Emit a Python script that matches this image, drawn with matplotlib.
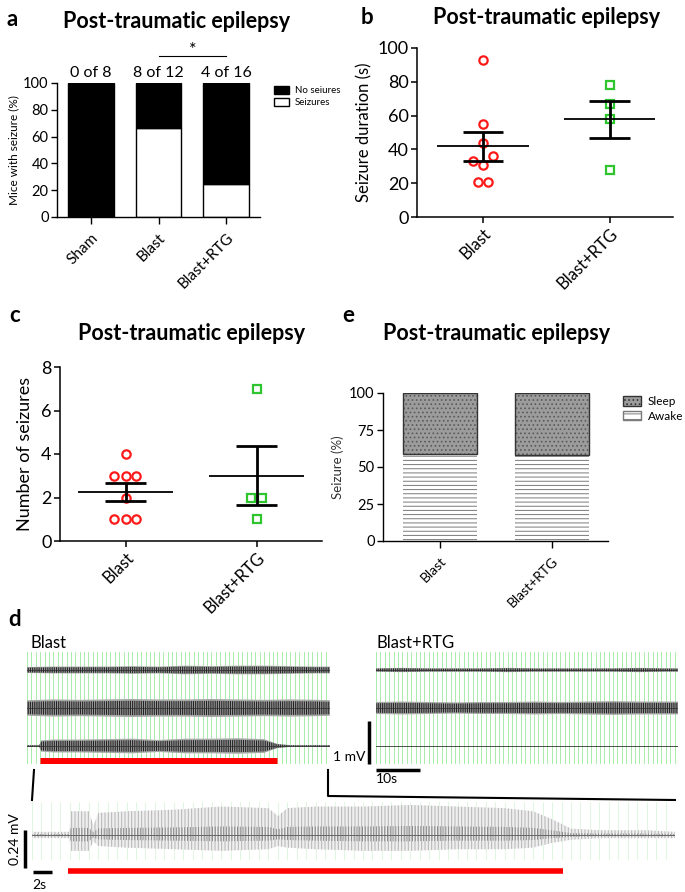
import numpy as np
import matplotlib
matplotlib.use('Agg')
import matplotlib.pyplot as plt
from matplotlib.patches import Patch

plt.rcParams['font.family'] = ['Lato', 'DejaVu Sans']
plt.rcParams['hatch.linewidth'] = 0.7

# ---------------- data ----------------
# a: mice with seizure
groups_a = ['Sham', 'Blast', 'Blast+RTG']
seizure_pct = [0, 66.7, 25]
no_seizure_pct = [100, 33.3, 75]
counts_a = ['0 of 8', '8 of 12', '4 of 16']

# b, c: per-mouse values
groups_bc = ['Blast', 'Blast+RTG']
blast_duration = [93, 55, 44, 36, 33, 31, 21, 21]
blast_duration_jitter = [0, 0, 0, 0.08, -0.08, 0, -0.04, 0.04]
rtg_duration = [78, 67, 58, 28]
rtg_duration_jitter = [0, 0, 0, 0]

blast_count = [4, 3, 3, 3, 2, 1, 1, 1]
blast_count_jitter = [0, -0.085, 0, 0.08, 0, -0.085, 0, 0.08]
rtg_count = [7, 2, 2, 1]
rtg_count_jitter = [0, -0.045, 0.045, 0]

# e: sleep / awake
awake_pct = [59, 58]
sleep_pct = [41, 42]

# d: EEG envelopes (half amplitude in mV), time in s
eeg_t = [0, 6, 12, 18, 24, 30, 36, 42, 48, 54, 60, 66, 69]
blast_ch1 = [0.07, 0.08, 0.08, 0.08, 0.09, 0.08, 0.10, 0.09, 0.10, 0.10, 0.09, 0.08, 0.08]
blast_ch2 = [0.18, 0.20, 0.19, 0.20, 0.21, 0.20, 0.20, 0.21, 0.20, 0.19, 0.20, 0.19, 0.18]
blast_ch3_t = [0, 2.8, 3.2, 6, 12, 18, 24, 30, 36, 42, 48, 54, 57, 60, 69]
blast_ch3 = [0.02, 0.02, 0.13, 0.15, 0.15, 0.16, 0.17, 0.14, 0.17, 0.17, 0.18, 0.16, 0.05, 0.02, 0.02]
rtg_ch1 = [0.04, 0.05, 0.04, 0.04, 0.04, 0.05, 0.04, 0.04, 0.04, 0.04, 0.05, 0.04, 0.04]
rtg_ch2 = [0.14, 0.15, 0.14, 0.13, 0.14, 0.14, 0.15, 0.14, 0.15, 0.16, 0.15, 0.15, 0.15]
rtg_ch3 = [0.01, 0.01, 0.01, 0.01, 0.01, 0.01, 0.01, 0.01, 0.01, 0.01, 0.01, 0.01, 0.01]
seizure_on, seizure_off = 3, 57

# expanded seizure trace (upper / lower excursion from baseline, mV)
exp_t = [0, 3.9, 4.1, 6, 6.5, 7, 10, 15, 20, 25, 26, 27, 30, 35, 40, 45, 50, 53, 55, 57, 60, 65, 68]
exp_up = [0.02, 0.02, 0.15, 0.15, 0.06, 0.14, 0.15, 0.16, 0.18, 0.17, 0.12, 0.17, 0.18, 0.18,
          0.19, 0.18, 0.17, 0.15, 0.10, 0.04, 0.03, 0.03, 0.02]
exp_lo = [0.02, 0.02, 0.10, 0.10, 0.04, 0.07, 0.08, 0.09, 0.10, 0.09, 0.07, 0.08, 0.09, 0.10,
          0.10, 0.09, 0.09, 0.08, 0.05, 0.03, 0.02, 0.02, 0.02]
exp_on, exp_off = 3.8, 56.2

# ---------------- layout helpers ----------------
W, H = 685, 892
fig = plt.figure(figsize=(W / 100, H / 100), dpi=100)


def box(l, t, r, b):
    return [l / W, 1 - b / H, (r - l) / W, (b - t) / H]


def ftext(x, y, s, **kw):
    kw.setdefault('ha', 'center')
    kw.setdefault('va', 'center')
    fig.text(x / W, 1 - y / H, s, **kw)


def style(ax, lw=1.0):
    for s in ['top', 'right']:
        ax.spines[s].set_visible(False)
    for s in ['left', 'bottom']:
        ax.spines[s].set_linewidth(lw)
    ax.tick_params(direction='out', length=4, width=lw, pad=2)


def mean_sem(ax, xc, vals):
    m = np.mean(vals)
    s = np.std(vals, ddof=1) / np.sqrt(len(vals))
    ax.hlines(m, xc - 0.36, xc + 0.36, color='k', lw=1.3, zorder=4)
    ax.vlines(xc, m - s, m + s, color='k', lw=2, zorder=4)
    ax.hlines([m - s, m + s], xc - 0.16, xc + 0.16, color='k', lw=2, zorder=4)


RED = '#ff1a1a'
GREEN = '#2ec52e'
TITLE = 'Post-traumatic epilepsy'

# ---------------- panel a ----------------
ax = fig.add_axes(box(57, 83, 260, 217))
x = np.arange(len(groups_a))
ax.bar(x, seizure_pct, width=0.67, color='white', edgecolor='black', lw=1)
ax.bar(x, no_seizure_pct, bottom=seizure_pct, width=0.67, color='black', edgecolor='black', lw=1)
ax.set_xlim(-0.5, 2.5)
ax.set_ylim(0, 100)
ax.set_yticks(range(0, 101, 20))
ax.tick_params(axis='y', labelsize=10.5)
ax.set_xticks(x)
ax.set_xticklabels(groups_a, rotation=45, ha='right', rotation_mode='anchor', fontsize=11)
ax.set_ylabel('Mice with seizure (%)', fontsize=8.5, labelpad=3)
style(ax)
ax.tick_params(axis='x', length=5, pad=5)
for xi, c in zip(x, counts_a):
    ax.text(xi, 102, c, ha='center', va='bottom', fontsize=11.5)
ax.plot([1, 2], [120, 120], color='k', lw=0.8, clip_on=False)
ax.text(1.5, 119, '*', ha='center', va='bottom', fontsize=13)
ax.legend(handles=[Patch(fc='black', ec='black', label='No seiures'),
                   Patch(fc='white', ec='black', label='Seizures')],
          loc='upper left', bbox_to_anchor=(1.07, 0.98), frameon=False, fontsize=7,
          handlelength=1.5, handleheight=0.9, labelspacing=0.3, handletextpad=0.6,
          borderaxespad=0, borderpad=0)
ftext(177, 22, TITLE, fontsize=15.5, fontweight='bold')
ftext(12, 19, 'a', fontsize=16, fontweight='bold')

# ---------------- panel b ----------------
ax = fig.add_axes(box(417, 48, 673, 217))
ax.plot(0 + np.array(blast_duration_jitter), blast_duration, 'o', mfc='none', mec=RED, mew=1.6, ms=6)
ax.plot(1 + np.array(rtg_duration_jitter), rtg_duration, 's', mfc='none', mec=GREEN, mew=1.6, ms=5.5)
mean_sem(ax, 0, blast_duration)
mean_sem(ax, 1, rtg_duration)
ax.set_xlim(-0.52, 1.5)
ax.set_ylim(0, 100)
ax.set_yticks(range(0, 101, 20))
ax.tick_params(axis='y', labelsize=13)
ax.set_xticks([0, 1])
ax.set_xticklabels(groups_bc, rotation=45, ha='right', rotation_mode='anchor', fontsize=12)
ax.set_ylabel('Seizure duration (s)', fontsize=12, labelpad=4)
style(ax, 1.1)
ftext(547, 18, TITLE, fontsize=15.5, fontweight='bold')
ftext(367, 18, 'b', fontsize=16, fontweight='bold')

# ---------------- panel c ----------------
ax = fig.add_axes(box(60, 367, 322, 541))
ax.plot(0 + np.array(blast_count_jitter), blast_count, 'o', mfc='none', mec=RED, mew=1.6, ms=6)
ax.plot(1 + np.array(rtg_count_jitter), rtg_count, 's', mfc='none', mec=GREEN, mew=1.6, ms=5.5)
mean_sem(ax, 0, blast_count)
mean_sem(ax, 1, rtg_count)
ax.set_xlim(-0.5, 1.5)
ax.set_ylim(0, 8)
ax.set_yticks(range(0, 9, 2))
ax.tick_params(axis='y', labelsize=13)
ax.set_xticks([0, 1])
ax.set_xticklabels(groups_bc, rotation=45, ha='right', rotation_mode='anchor', fontsize=12)
ax.set_ylabel('Number of seizures', fontsize=13, labelpad=6)
style(ax, 1.1)
ftext(192, 333, TITLE, fontsize=15.5, fontweight='bold')
ftext(15, 316, 'c', fontsize=16, fontweight='bold')

# ---------------- panel e ----------------
ax = fig.add_axes(box(383, 393, 608, 541))
xe = np.arange(len(groups_bc))
ax.bar(xe, awake_pct, width=0.66, color='white', edgecolor='#7a7a7a', hatch='----', lw=0)
ax.bar(xe, sleep_pct, bottom=awake_pct, width=0.66, color='#9c9c9c', edgecolor='#5a5a5a',
       hatch='....', lw=0)
ax.bar(xe, sleep_pct, bottom=awake_pct, width=0.66, fill=False, edgecolor='#333333', lw=1)
ax.set_xlim(-0.51, 1.5)
ax.set_ylim(0, 100)
ax.set_yticks([0, 25, 50, 75, 100])
ax.tick_params(axis='y', labelsize=10.5)
ax.set_xticks(xe)
ax.set_xticklabels(groups_bc, rotation=45, ha='right', rotation_mode='anchor', fontsize=10)
ax.set_ylabel('Seizure (%)', fontsize=9.5, labelpad=4, color='#333333')
style(ax)
ax.tick_params(axis='x', length=5, pad=5)
ax.legend(handles=[Patch(fc='#9c9c9c', ec='#333333', hatch='....', label='Sleep'),
                   Patch(fc='white', ec='#7a7a7a', hatch='---', label='Awake')],
          loc='upper left', bbox_to_anchor=(1.067, 0.98), frameon=False, fontsize=8.5,
          handlelength=1.5, handleheight=0.9, labelspacing=0.3, handletextpad=0.6,
          borderaxespad=0, borderpad=0)
ftext(497, 333, TITLE, fontsize=15.5, fontweight='bold')
ftext(348, 316, 'e', fontsize=16, fontweight='bold')

# ---------------- panel d ----------------
PX_PER_MV = 43.0


def green_grid(ax, tmax, color='#9be89b'):
    for v in np.arange(0, tmax + 0.01, 1.0):
        ax.axvline(v, color=color, lw=0.6, zorder=0)


def draw_trace(ax, t, amp, y0):
    t = np.asarray(t, dtype=float)
    a = np.asarray(amp, dtype=float)
    ax.fill_between(t, y0 - a, y0 + a, facecolor='#a8a8a8', lw=0, zorder=2)
    ax.fill_between(t, y0 - 0.8 * a, y0 + 0.8 * a, facecolor='none', edgecolor='#1e1e1e',
                    hatch='|||||||||', lw=0, zorder=3)
    ax.plot(t, np.full_like(t, y0), color='#333333', lw=0.6, zorder=4)


rows_y = [94 / PX_PER_MV, 56 / PX_PER_MV, 18 / PX_PER_MV]

axl = fig.add_axes(box(27, 652, 330, 764))
axl.set_xlim(0, 69)
axl.set_ylim(0, 112 / PX_PER_MV)
axl.axis('off')
green_grid(axl, 69)
draw_trace(axl, eeg_t, blast_ch1, rows_y[0])
draw_trace(axl, eeg_t, blast_ch2, rows_y[1])
draw_trace(axl, blast_ch3_t, blast_ch3, rows_y[2])
axl.plot([seizure_on, seizure_off], [0.07, 0.07], color='red', lw=5, solid_capstyle='butt', zorder=5)

axr = fig.add_axes(box(376, 652, 678, 764))
axr.set_xlim(0, 302 / 4.39)
axr.set_ylim(0, 112 / PX_PER_MV)
axr.axis('off')
green_grid(axr, 302 / 4.39)
draw_trace(axr, eeg_t, rtg_ch1, rows_y[0])
draw_trace(axr, eeg_t, rtg_ch2, rows_y[1])
draw_trace(axr, eeg_t, rtg_ch3, rows_y[2])
# scale bars
axr.plot([-1.6, -1.6], [0, 1.0], color='k', lw=2.5, clip_on=False, solid_capstyle='butt')
axr.plot([0, 10], [-0.14, -0.14], color='k', lw=2.5, clip_on=False, solid_capstyle='butt')
axr.text(-2.4, 0.17, '1 mV', ha='right', va='center', fontsize=10)
axr.text(0, -0.36, '10s', ha='left', va='center', fontsize=10)

ftext(15, 620, 'd', fontsize=16, fontweight='bold')
ftext(30, 643, 'Blast', fontsize=12, ha='left')
ftext(377, 643, 'Blast+RTG', fontsize=12, ha='left')

# expanded seizure
PX_PER_MV_EXP = 158.0
axb = fig.add_axes(box(32, 802, 675, 860))
axb.set_xlim(0, 68)
axb.set_ylim(0, 58 / PX_PER_MV_EXP)
axb.axis('off')
green_grid(axb, 68, color='#dcf5dc')
base = 25 / PX_PER_MV_EXP
te = np.asarray(exp_t, dtype=float)
up = np.asarray(exp_up)
lo = np.asarray(exp_lo)
axb.fill_between(te, base - lo, base + up, facecolor='#efefef', edgecolor='#b4b4b4',
                 hatch='|||||', lw=0, zorder=2)
axb.fill_between(te, base - 0.4 * lo, base + 0.3 * up, facecolor='none', edgecolor='#8a8a8a',
                 hatch='||||||', lw=0, zorder=3)
axb.plot(te, np.full_like(te, base), color='#666666', lw=0.7, zorder=4)
axb.plot([exp_on, exp_off], [-11 / PX_PER_MV_EXP] * 2, color='red', lw=4,
         solid_capstyle='butt', clip_on=False)
axb.plot([-0.74, -0.74], [-0.05, 0.19], color='k', lw=2.5, clip_on=False, solid_capstyle='butt')
axb.plot([0.1, 2.1], [-12 / PX_PER_MV_EXP] * 2, color='k', lw=2.5, clip_on=False,
         solid_capstyle='butt')
axb.text(-1.8, 0.13, '0.24 mV', rotation=90, ha='center', va='center', fontsize=10)
axb.text(0.0, -25 / PX_PER_MV_EXP, '2s', ha='left', va='center', fontsize=10)

# zoom connector lines
ov = fig.add_axes([0, 0, 1, 1])
ov.set_xlim(0, W)
ov.set_ylim(H, 0)
ov.axis('off')
ov.plot([34, 32], [770, 800], color='k', lw=1.5)
ov.plot([328, 328, 675], [770, 796, 800], color='k', lw=1.5)

fig.savefig('out.png', dpi=100)
